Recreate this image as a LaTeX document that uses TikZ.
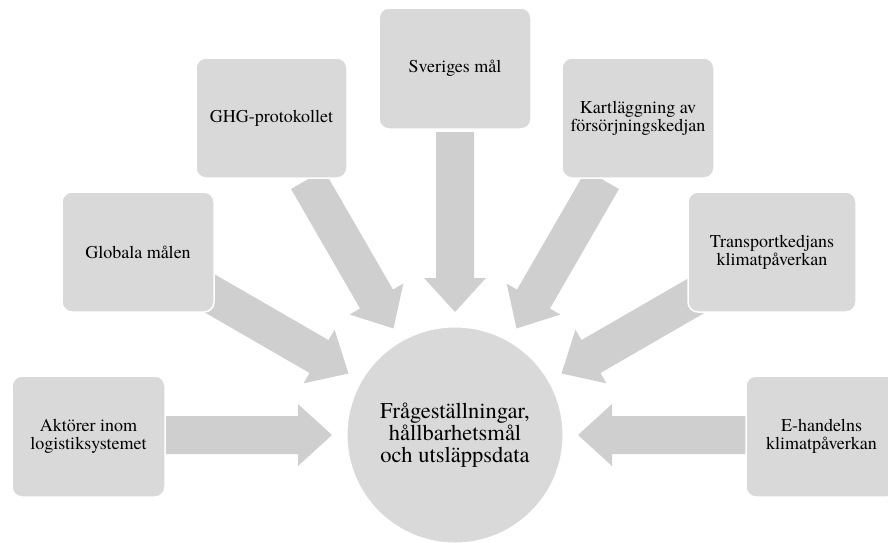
\documentclass[tikz,border=0pt]{standalone}
\usepackage{fontspec}
\setmainfont{texgyretermes}[Extension=.otf, UprightFont=*-regular]
\definecolor{boxgrey}{RGB}{217,217,217}
\definecolor{arrowgrey}{RGB}{207,207,207}
\begin{document}
\begin{tikzpicture}[x=1pt,y=-1pt,
  topic/.style={draw=white, line width=1.5pt, fill=boxgrey, rounded corners=10pt,
    inner sep=2pt, align=center, text=black,
    font=\fontsize{18}{18}\selectfont},
  hubstyle/.style={circle, fill=boxgrey, draw=white, line width=1pt,
    minimum size=216pt, inner sep=0pt, align=center, text=black,
    font=\fontsize{22.5}{22}\selectfont},
  % block arrow pointing towards the hub along the local +x axis;
  % the argument is the distance of its tail from the hub centre
  pics/feed/.style={code={\fill[arrowgrey] (123,0) -- (157,31) -- (157,19)
      -- (#1,19) -- (#1,-19) -- (157,-19) -- (157,-31) -- cycle;}}
]
\useasboundingbox (0,0) rectangle (888,542);
\coordinate (c) at (455,435);

% arrows converging on the hub
\pic[rotate=0]   at (c) {feed=295};
\pic[rotate=30]  at (c) {feed=295};
\pic[rotate=60]  at (c) {feed=295};
\pic[rotate=90]  at (c) {feed=303};
\pic[rotate=120] at (c) {feed=295};
\pic[rotate=150] at (c) {feed=295};
\pic[rotate=180] at (c) {feed=295};

% source boxes
\node[topic, minimum width=153pt, minimum height=121pt] (akt) at (88.5,436.5)
  {Aktörer inom\\logistiksystemet};
\node[topic, minimum width=152pt, minimum height=120pt] (glob) at (138,252)
  {Globala målen};
\node[topic, minimum width=151pt, minimum height=120pt] (ghg) at (271.5,118)
  {GHG-protokollet};
\node[topic, minimum width=152pt, minimum height=121pt] (sve) at (455,68.5)
  {Sveriges mål};
\node[topic, minimum width=152pt, minimum height=120pt] (kart) at (638,118)
  {Kartläggning av\\försörjningskedjan};
\node[topic, minimum width=168pt, minimum height=120pt] (trans) at (772,252)
  {Transportkedjans\\klimatpåverkan};
\node[topic, minimum width=151pt, minimum height=121pt] (ehan) at (821.5,436.5)
  {E-handelns\\klimatpåverkan};

% central hub
\node[hubstyle] (hub) at (c)
  {Frågeställningar,\\hållbarhetsmål\\och utsläppsdata};
\end{tikzpicture}
\end{document}
